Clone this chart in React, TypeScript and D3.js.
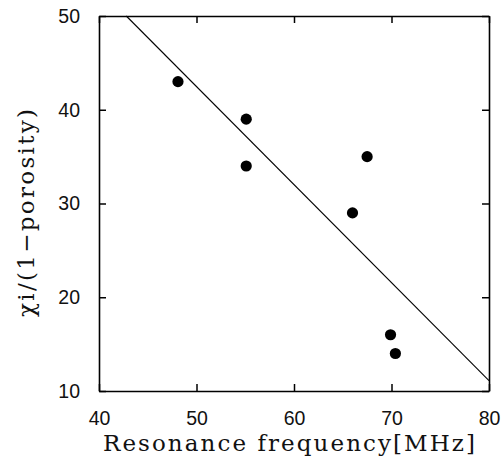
import React, { useEffect, useRef } from 'react';
import * as d3 from 'd3';

// measured points (resonance frequency in MHz, chi / (1 - porosity))
const freq = [48.1, 55.1, 55.1, 67.5, 66.0, 69.9, 70.4];
const chi = [43.0, 39.0, 34.0, 35.0, 29.0, 16.0, 14.0];

// end points of the fitted line
const fitX = [42.8, 80];
const fitY = [50, 11.1];

const xTicks = [40, 50, 60, 70, 80];
const yTicks = [10, 20, 30, 40, 50];

const App = () => {
  const ref = useRef<SVGSVGElement>(null);

  useEffect(() => {
    const svg = d3.select(ref.current);
    svg.selectAll('*').remove();

    const margin = { top: 16, right: 12, bottom: 69, left: 99 };
    const width = 501;
    const height = 460;

    const x = d3.scaleLinear().domain([40, 80]).range([margin.left, width - margin.right]);
    const y = d3.scaleLinear().domain([10, 50]).range([height - margin.bottom, margin.top]);

    const tickFont = '"Liberation Sans", Arial, sans-serif';
    const titleFont = '"DejaVu Serif", serif';

    // axes, ticks pointing inward on all four sides
    const axes = [
      { axis: d3.axisBottom(x), pos: `translate(0,${y(10)})`, labels: true },
      { axis: d3.axisTop(x), pos: `translate(0,${y(50)})`, labels: false },
      { axis: d3.axisLeft(y), pos: `translate(${x(40)},0)`, labels: true },
      { axis: d3.axisRight(y), pos: `translate(${x(80)},0)`, labels: false },
    ];

    axes.forEach((a, i) => {
      const isX = i < 2;
      const g = svg.append('g')
        .attr('transform', a.pos)
        .call(a.axis
          .tickValues(isX ? xTicks : yTicks)
          .tickSizeInner(-7)
          .tickSizeOuter(0)
          .tickPadding(isX ? 20 : 19)
          .tickFormat(d3.format('d')));
      g.select('.domain').attr('stroke', '#000').attr('stroke-width', 1.6);
      g.selectAll('.tick line').attr('stroke', '#000').attr('stroke-width', 1.5);
      g.selectAll('.tick text')
        .attr('fill', '#111')
        .style('font-family', tickFont)
        .style('font-size', '19.5px');
      if (!a.labels) g.selectAll('.tick text').remove();
    });

    // fitted line
    svg.append('line')
      .attr('x1', x(fitX[0]))
      .attr('y1', y(fitY[0]))
      .attr('x2', x(fitX[1]))
      .attr('y2', y(fitY[1]))
      .attr('stroke', '#000')
      .attr('stroke-width', 1.1);

    // data points
    svg.append('g')
      .selectAll('circle')
      .data(freq.map((f, i) => ({ f, c: chi[i] })))
      .enter().append('circle')
      .attr('cx', d => x(d.f))
      .attr('cy', d => y(d.c))
      .attr('r', 5.6)
      .attr('fill', '#000');

    // axis titles, letters spread out like the original typesetting
    svg.append('text')
      .attr('x', 103)
      .attr('y', 451)
      .attr('textLength', 372)
      .attr('lengthAdjust', 'spacing')
      .style('font-family', titleFont)
      .style('font-size', '23px')
      .attr('fill', '#111')
      .text('Resonance frequency[MHz]');

    svg.append('text')
      .attr('transform', 'translate(34,317) rotate(-90)')
      .attr('textLength', 208)
      .attr('lengthAdjust', 'spacing')
      .style('font-family', titleFont)
      .style('font-size', '23px')
      .attr('fill', '#111')
      .text('\u03c7i/(1\u2212porosity)');
  }, []);

  return (
    <svg
      ref={ref}
      width={501}
      height={460}
      style={{ position: 'absolute', left: 0, top: 0, background: '#fff' }}
    />
  );
};

export default App;
